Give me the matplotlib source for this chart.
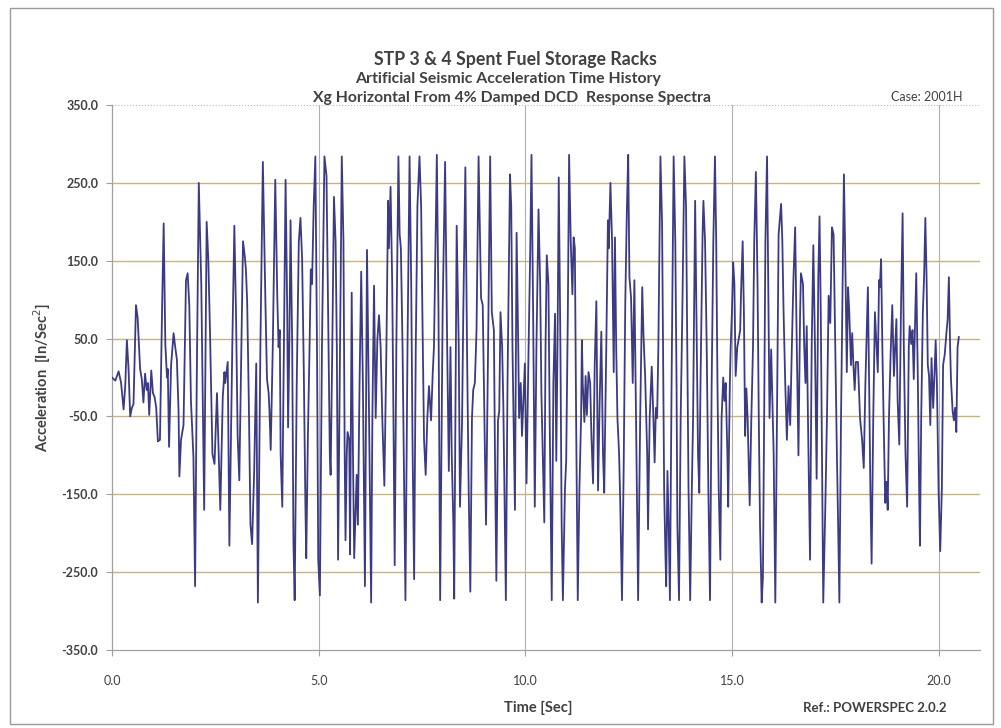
import matplotlib.pyplot as plt
from matplotlib.patches import Rectangle

# time history (sec, in/sec^2)
time_s = [
    0.00, 0.08, 0.16, 0.22, 0.28, 0.32, 0.36, 0.40, 0.44, 0.48, 0.52, 0.58, 0.62, 0.68, 0.72, 0.76,
    0.80, 0.84, 0.87, 0.90, 0.95, 0.99, 1.03, 1.07, 1.11, 1.16, 1.21, 1.25, 1.29, 1.33, 1.35, 1.38,
    1.43, 1.49, 1.53, 1.57, 1.61, 1.63, 1.67, 1.73, 1.79, 1.83, 1.87, 1.91, 1.97, 2.01, 2.05, 2.10,
    2.16, 2.19, 2.23, 2.29, 2.33, 2.37, 2.43, 2.48, 2.54,
    2.62, 2.68, 2.72, 2.74, 2.80, 2.84, 2.91, 2.96, 3.00, 3.04, 3.08, 3.13, 3.17, 3.21, 3.24, 3.27,
    3.31, 3.35, 3.39, 3.44, 3.49, 3.53, 3.59, 3.65, 3.71, 3.75, 3.79, 3.81, 3.84, 3.89, 3.95, 4.00,
    4.03, 4.06, 4.08, 4.12, 4.16, 4.20, 4.24, 4.26, 4.29, 4.32, 4.36, 4.39, 4.42, 4.47, 4.52, 4.56,
    4.60, 4.64, 4.68, 4.70, 4.74, 4.78, 4.81, 4.84, 4.88, 4.92, 4.96, 4.99, 5.03, 5.08, 5.14,
    5.19, 5.23, 5.27, 5.29, 5.33, 5.37, 5.41, 5.44, 5.47, 5.51, 5.56, 5.60, 5.63, 5.65, 5.68, 5.70,
    5.74, 5.76, 5.80, 5.83, 5.86, 5.92, 5.95, 5.99, 6.03, 6.07, 6.12, 6.17, 6.22, 6.27, 6.30, 6.34,
    6.38, 6.42, 6.46, 6.50, 6.54, 6.59, 6.64, 6.68, 6.70, 6.74, 6.78, 6.81, 6.84, 6.88, 6.93, 6.96,
    6.99, 7.03, 7.07, 7.10, 7.15, 7.20, 7.24, 7.27, 7.31, 7.35, 7.39, 7.44, 7.48, 7.51, 7.55, 7.59,
    7.63, 7.67, 7.72, 7.76,
    7.79, 7.86, 7.90, 7.94, 8.00, 8.06, 8.11, 8.15, 8.19, 8.22, 8.26, 8.28, 8.32, 8.34, 8.39, 8.42,
    8.47, 8.50, 8.55, 8.59, 8.63, 8.67, 8.71, 8.74, 8.78, 8.82, 8.87, 8.93, 8.97, 9.01, 9.05, 9.09,
    9.15, 9.19, 9.24, 9.27, 9.30, 9.34, 9.37, 9.40, 9.44, 9.47, 9.50, 9.53, 9.57, 9.63, 9.66, 9.69,
    9.73, 9.75, 9.79, 9.83, 9.85, 9.89, 9.92, 9.96, 9.99, 10.03, 10.08, 10.12, 10.15, 10.19, 10.23,
    10.27, 10.32,
    10.36, 10.39, 10.43, 10.46, 10.49, 10.52, 10.56, 10.59, 10.64, 10.68, 10.72, 10.75, 10.78, 10.81,
    10.85, 10.88, 10.91, 10.96, 10.99, 11.03, 11.06, 11.10, 11.14, 11.17, 11.20, 11.23, 11.27, 11.31,
    11.35, 11.37, 11.39, 11.43, 11.46, 11.49, 11.53, 11.57, 11.60, 11.64, 11.68, 11.72, 11.76, 11.80,
    11.84, 11.88, 11.91, 11.96, 12.00, 12.02, 12.06, 12.10, 12.14, 12.17, 12.20, 12.23, 12.27, 12.30,
    12.34, 12.38, 12.42, 12.46, 12.49, 12.52, 12.56, 12.60, 12.64, 12.67, 12.70, 12.73, 12.78, 12.83,
    12.86,
    12.90, 12.95, 12.97, 13.01, 13.06, 13.10, 13.13, 13.16, 13.19, 13.22, 13.27, 13.31, 13.34, 13.36,
    13.39, 13.41, 13.44, 13.47, 13.50, 13.54, 13.59, 13.63, 13.66, 13.68, 13.72, 13.76, 13.80, 13.85,
    13.89, 13.92, 13.95, 13.99, 14.03, 14.06, 14.11, 14.14, 14.18, 14.21, 14.24, 14.29, 14.31, 14.35,
    14.39, 14.43, 14.47, 14.51, 14.55, 14.59, 14.62, 14.65, 14.68, 14.72, 14.75, 14.79, 14.82, 14.85,
    14.89, 14.91, 14.95, 14.97, 15.00, 15.03, 15.06, 15.09, 15.13, 15.16, 15.20, 15.22, 15.26, 15.29,
    15.32, 15.35, 15.38, 15.43, 15.47,
    15.51, 15.54, 15.58, 15.62, 15.65, 15.68, 15.72, 15.75, 15.78, 15.81, 15.85, 15.88, 15.91, 15.95,
    15.98, 16.01, 16.05, 16.09, 16.13, 16.19, 16.22, 16.25, 16.29, 16.33, 16.37, 16.41, 16.45, 16.49,
    16.53, 16.57, 16.61, 16.65, 16.67, 16.72, 16.75, 16.78, 16.81, 16.84, 16.89, 16.93, 16.97, 17.01,
    17.05, 17.09, 17.12, 17.15, 17.18, 17.21, 17.26, 17.30, 17.34, 17.38, 17.42, 17.46, 17.50, 17.54,
    17.57, 17.60, 17.64, 17.67, 17.71, 17.75, 17.78, 17.81, 17.84, 17.88, 17.91, 17.94, 17.97, 18.00,
    18.05, 18.10, 18.15,
    18.19, 18.23, 18.29, 18.32, 18.35, 18.38, 18.42, 18.46, 18.50, 18.53, 18.56, 18.58, 18.61, 18.64,
    18.67, 18.71, 18.74, 18.77, 18.80, 18.84, 18.88, 18.92, 18.98, 19.01, 19.05, 19.09, 19.13, 19.16,
    19.20, 19.24, 19.28, 19.30, 19.34, 19.37, 19.40, 19.46, 19.50, 19.53, 19.55, 19.58, 19.62, 19.65,
    19.68, 19.71, 19.74, 19.77, 19.80, 19.83, 19.87, 19.90, 19.93, 19.96, 20.00, 20.04, 20.08, 20.11,
    20.15, 20.19, 20.22, 20.25, 20.28, 20.30, 20.34, 20.37, 20.40, 20.43, 20.46, 20.49,
]
accel = [
    0, -4, 8, -7, -41, -11, 48, 11, -50, -39, -34, 93, 77, 11, -2, -32,
    5, -16, -7, -48, 9, -20, -25, -39, -82, -80, 84, 198, 43, 0, 11, -89,
    16, 57, 39, 23, -43, -127, -80, -61, 125, 134, 93, -30, -102, -268, -7, 250,
    120, -7, -170, 200, 152, 61, -98, -111, -20,
    -170, -25, 7, -7, 20, -216, 39, 195, 84, -75, -132, 39, 175, 157, 139, 98,
    -30, -189, -214, -120, 18, -289, 39, 277, 102, -2, -20, -43, -93, 39, 254, 102,
    39, 61, -98, -166, 39, 254, 84, -64, 39, 202, 39, -211, -286, -7, 175, 205,
    152, 11, -166, -232, -75, 39, 139, 120, 220, 284, 39, -234, -280, 39, 284,
    259, 84, -98, -125, 39, 232, 175, 39, -234, -7, 284, 175, -98, -209, -98, -70,
    -80, -227, 109, -98, -232, -125, -189, -7, 136, -7, -268, 164, -52, -289, -52, 118,
    -52, 48, 80, 39, -52, -139, 39, 227, 166, 245, 120, -52, -241, 39, 284, 184,
    166, 39, -143, -286, 39, 284, 120, -75, -259, 39, 220, 284, 220, 84, -80, -125,
    -52, -11, -55, 5,
    39, 286, 84, -286, 84, 277, 39, -120, 39, -98, -189, -284, 39, 195, 39, -166,
    -57, 84, 270, 39, -143, -275, -52, -16, -7, 61, 284, 102, 93, -52, -189, -7,
    284, 84, 61, -120, -261, -55, -43, 84, 39, -39, -166, -286, -7, 261, 220, 39,
    -98, -170, 186, 39, -52, -7, -75, -20, 18, -136, 39, 164, 286, 84, -166,
    39, 216,
    120, -20, -116, -186, 39, 157, 120, -52, -286, -7, 82, -107, 39, 257,
    39, -189, -286, -143, -107, 84, 286, 175, 107, 180, 166, -52, -286, -143,
    -52, 48, -7, -57, 2, -48, 7, -7, -75, -136, 16, 98, -145, -30,
    59, -98, -148, 39, 202, 166, 250, 175, 7, 180, 39, -52, -98, -166,
    -286, -120, 98, 220, 286, 129, 102, -7, 125, -7, -143, -286, -52, 116,
    55,
    2, -98, -195, -52, 14, -52, -109, -39, -52, 39, 284, 198, -7, -143,
    -225, -268, -120, -189, -286, -7, 284, 175, -7, -189, -286, -52, 84, 284,
    220, 39, -143, -286, -143, -52, 227, 84, -98, -148, -7, 184, 227, 175,
    39, -143, -286, -7, 175, 284, 175, -7, -143, -234, -52, 0, -30, -7,
    -98, -166, -7, 39, 84, 148, 120, 2, 39, 48, 61, 107, 175, 84,
    -75, -14, -52, -164, -52,
    39, 175, 264, 120, -52, -189, -289, -257, -52, 175, 284, 120, -52, 36,
    -30, -98, -289, -52, 184, 223, 175, 84, -7, -80, -11, -61, 39, 129,
    193, 39, -100, 84, 134, 120, 39, -7, 66, -52, -234, 39, 170, 39,
    -130, 129, 207, 84, -98, -289, -166, -52, 105, 70, 193, 184, 39, -98,
    -189, -289, -52, 84, 261, 129, 7, 116, 84, 16, 57, 16, -16, 20,
    20, -52, -80,
    -116, -7, 116, -7, -143, -239, -52, 84, 39, 7, 125, 116, 152, 39,
    -52, -161, -134, -170, -52, 30, 93, 2, 75, -30, -86, 84, 211, 39,
    -98, -166, 39, 66, 43, 61, -2, 134, -7, -143, -216, -52, 84, 129,
    205, 129, 16, 2, -61, 25, -39, 2, 48, -7, -143, -223, -143, 16,
    30, 57, 75, 129, 39, -2, -43, -55, -39, -70, 39, 52,
]

x_ticks = [0.0, 5.0, 10.0, 15.0, 20.0]
y_ticks = [-350.0, -250.0, -150.0, -50.0, 50.0, 150.0, 250.0, 350.0]

text_col = '#404040'
plt.rcParams['font.family'] = ['Lato', 'DejaVu Sans']

fig = plt.figure(figsize=(10.01, 7.28), dpi=100)
fig.patch.set_facecolor('white')
# outer chart frame
fig.patches.append(Rectangle((0.010, 0.006), 0.982, 0.983, transform=fig.transFigure,
                             fill=False, edgecolor='#9a9a9a', linewidth=1.0))

ax = fig.add_axes([0.1119, 0.1071, 0.867, 0.7486])
ax.plot(time_s, accel, color='#3b3b85', linewidth=1.3, zorder=3)

ax.set_xlim(0, 21.0)
ax.set_ylim(-350, 350)
ax.set_xticks(x_ticks)
ax.set_yticks(y_ticks)
ax.set_xticklabels([f'{v:.1f}' for v in x_ticks], fontsize=9, color=text_col)
ax.set_yticklabels([f'{v:.1f}' for v in y_ticks], fontsize=9, color=text_col, fontweight='bold')

# horizontal grid tan, vertical grid grey
for v in y_ticks[1:-1]:
    ax.axhline(v, color='#c8b47e', linewidth=1.0, zorder=1)
ax.axhline(350, color='#b8b8b8', linewidth=0.8, linestyle=':', zorder=1)
for v in x_ticks[1:]:
    ax.axvline(v, color='#b0b0b0', linewidth=0.8, zorder=1)

for s in ['top', 'right']:
    ax.spines[s].set_visible(False)
for s in ['left', 'bottom']:
    ax.spines[s].set_color('#a0a0a0')
    ax.spines[s].set_linewidth(0.9)
ax.tick_params(axis='y', length=4, color='#a0a0a0', pad=6)
ax.tick_params(axis='x', length=4, color='#a0a0a0', pad=14)

ax.set_ylabel('Acceleration  [In/Sec$^2$]', fontsize=10.5, fontweight='bold', color=text_col, labelpad=6)

fig.text(0.515, 0.918, 'STP 3 & 4 Spent Fuel Storage Racks', ha='center', va='center',
         fontsize=12.8, fontweight='bold', color=text_col)
fig.text(0.508, 0.891, 'Artificial Seismic Acceleration Time History', ha='center', va='center',
         fontsize=11.4, fontweight='bold', fontstyle='normal', color=text_col)
fig.text(0.511, 0.866, 'Xg Horizontal From 4% Damped DCD  Response Spectra', ha='center', va='center',
         fontsize=11.3, fontweight='bold', fontstyle='normal', color=text_col)
fig.text(0.926, 0.867, 'Case: 2001H', ha='center', va='center', fontsize=9, color=text_col)
fig.text(0.538, 0.028, 'Time [Sec]', ha='center', va='center', fontsize=10.5,
         fontweight='bold', color=text_col)
fig.text(0.874, 0.028, 'Ref.: POWERSPEC 2.0.2', ha='center', va='center', fontsize=9.5,
         fontweight='bold', color=text_col)

plt.savefig('out.png', dpi=100)
